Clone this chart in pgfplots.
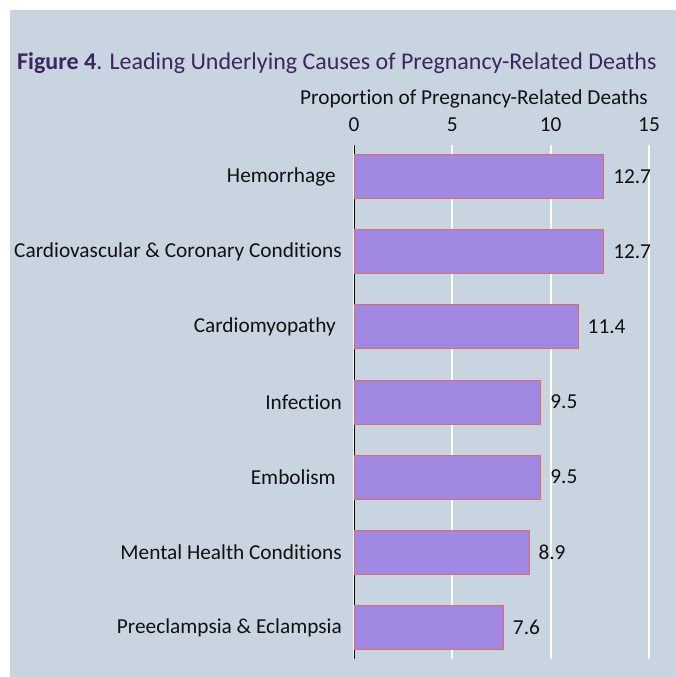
\documentclass[border=0pt]{standalone}
\usepackage{pgfplots}
\pgfplotsset{compat=1.18}
\usepackage{fontspec}
\setmainfont{Carlito}[Ligatures={NoCommon}]

\definecolor{panel}{HTML}{C8D4E0}
\definecolor{barfill}{HTML}{A088E3}
\definecolor{baredge}{HTML}{E06868}
\definecolor{titlecol}{HTML}{3D2660}
\definecolor{txt}{HTML}{111111}

\begin{document}
\begin{tikzpicture}[x=1bp,y=1bp]
% background and panel
\fill[white] (0,0) rectangle (676,677);
\fill[panel] (10,0) rectangle (676,667);

\node[anchor=base west, inner sep=0, text=titlecol, font=\fontsize{24bp}{28bp}\selectfont]
  at (17,677-70) {\textbf{Figure 4}. Leading Underlying Causes of Pregnancy-Related Deaths};
\node[anchor=base, inner sep=0, text=txt, font=\fontsize{21.3bp}{24bp}\selectfont]
  at (474,677-105) {Proportion of Pregnancy-Related Deaths};

\begin{axis}[
    at={(354bp,18bp)}, anchor=south west,
    scale only axis,
    width=295bp, height=514bp,
    xbar, bar width=44bp,
    xmin=0, xmax=15,
    ymin=-0.42, ymax=6.42,
    y dir=reverse,
    axis x line*=top,
    axis y line*=left,
    x axis line style={draw=none},
    y axis line style={black, line width=1bp},
    major tick length=0pt,
    xtick={0,5,10,15},
    ytick={0,1,2,3,4,5,6},
    yticklabels={Hemorrhage\hspace*{6bp}, Cardiovascular \& Coronary Conditions, Cardiomyopathy\hspace*{6bp},
                 Infection, Embolism\hspace*{6bp}, Mental Health Conditions, Preeclampsia \& Eclampsia},
    xmajorgrids,
    grid style={white, line width=2bp},
    /pgf/number format/assume math mode=true,
    ticklabel style={font=\fontsize{21.3bp}{24bp}\selectfont, text=txt},
    xticklabel style={anchor=base, inner sep=0pt, yshift=13bp},
    yticklabel style={anchor=east, inner sep=0pt, xshift=-12bp},
    nodes near coords,
    point meta=x,
    nodes near coords style={font=\fontsize{21.3bp}{24bp}\selectfont, text=txt,
        anchor=west, inner sep=0pt, xshift=9bp,
        /pgf/number format/.cd, fixed, precision=1, fixed zerofill, assume math mode=true},
]
\addplot[fill=barfill, draw=baredge, line width=1bp] coordinates {
    (12.7,0) (12.7,1) (11.4,2) (9.5,3) (9.5,4) (8.9,5) (7.6,6)
};
\end{axis}
\end{tikzpicture}
\end{document}
